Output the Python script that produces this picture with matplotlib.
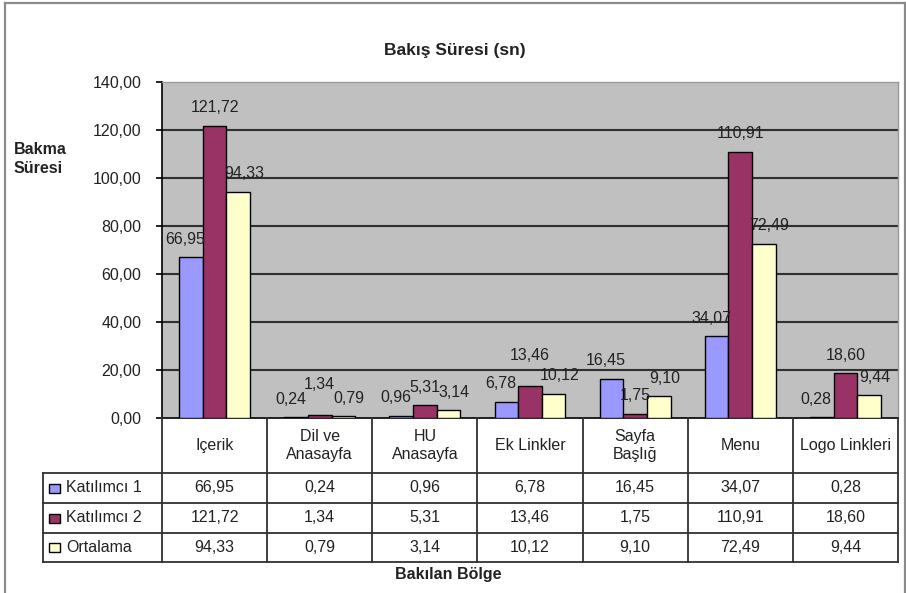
import matplotlib
matplotlib.use("Agg")
import matplotlib.pyplot as plt
from matplotlib.lines import Line2D
from matplotlib.patches import Rectangle

plt.rcParams['font.family'] = ['Liberation Sans', 'DejaVu Sans']

# bakılan bölgeler ve ölçülen süreler (sn)
categories = ["Içerik", "Dil ve\nAnasayfa", "HU\nAnasayfa", "Ek Linkler",
              "Sayfa\nBaşlığ", "Menu", "Logo Linkleri"]
series_names = ["Katılımcı 1", "Katılımcı 2", "Ortalama"]
katilimci_1 = [66.95, 0.24, 0.96, 6.78, 16.45, 34.07, 0.28]
katilimci_2 = [121.72, 1.34, 5.31, 13.46, 1.75, 110.91, 18.60]
ortalama = [94.33, 0.79, 3.14, 10.12, 9.10, 72.49, 9.44]
series = [katilimci_1, katilimci_2, ortalama]
colors = ["#9999FF", "#993366", "#FFFFCC"]
yticks = [0, 20, 40, 60, 80, 100, 120, 140]

# etiketlerin elle kaydırılmış olanları (kategori, seri) -> ek yükseklik (pt)
label_lift = {(1, 1): 9, (3, 1): 9}
label_dx = [-4, 0, 4]

TXT = "#222222"


def tr(v):
    return f"{v:.2f}".replace(".", ",")


W, H = 906, 593
fig = plt.figure(figsize=(W / 100, H / 100), dpi=100)
fig.patch.set_facecolor("white")

# dış çerçeve
for xs, ys in [((5, 5), (0, 590)), ((5, 905), (590, 590)), ((905, 905), (590, 0))]:
    fig.add_artist(Line2D([x / W for x in xs], [y / H for y in ys],
                          color="#8a8a8a", lw=1.6))

ax = fig.add_axes([162 / W, (H - 418) / H, 736 / W, 336 / H])
ax.set_facecolor("#C0C0C0")
n = len(categories)
bw = 0.225
for i, (vals, col) in enumerate(zip(series, colors)):
    xs = [c + 0.5 + (i - 1) * bw for c in range(n)]
    ax.bar(xs, vals, width=bw, color=col, edgecolor="black", linewidth=1.0, zorder=3)
    for c, (x, v) in enumerate(zip(xs, vals)):
        ax.annotate(tr(v), (x, v), xytext=(label_dx[i], 13 + label_lift.get((c, i), 0)),
                    textcoords="offset points", ha="center", va="center",
                    fontsize=11.5, color=TXT, zorder=4)

ax.set_xlim(0, n)
ax.set_ylim(0, 140)
ax.set_yticks(yticks)
ax.set_yticklabels([tr(t) for t in yticks], fontsize=11.5, color=TXT)
ax.set_xticks([])
ax.tick_params(axis="y", length=4, width=1.2, direction="out", pad=11)
for t in yticks[1:-1]:
    ax.axhline(t, color="#303030", lw=1.5, zorder=1)
ax.spines["left"].set_linewidth(1.2)
ax.spines["bottom"].set_linewidth(1.2)
for s in ("top", "right"):
    ax.spines[s].set_color("#9a9a9a")
    ax.spines[s].set_linewidth(1.0)

ax.text(-1.41, 108, "Bakma\nSüresi", fontsize=11.5, fontweight="bold", color=TXT,
        ha="left", va="center", linespacing=1.3)
fig.text(455 / W, 1 - 50 / H, "Bakış Süresi (sn)", fontsize=12.5, fontweight="bold",
         color=TXT, ha="center", va="center")

# veri tablosu
legend_w = 119 / 105.14
tb = fig.add_axes([43 / W, (H - 562) / H, 855 / W, 144 / H])
tb.set_xlim(-legend_w, n)
tb.set_ylim(144, 0)
tb.axis("off")
row_edges = [0, 55, 85, 115, 144]
lc = "#303030"
for c in range(n + 1):
    tb.plot([c, c], [0, 144], color=lc, lw=1.3, clip_on=False)
tb.plot([-legend_w, -legend_w], [55, 144], color=lc, lw=1.3, clip_on=False)
for y in row_edges[1:]:
    tb.plot([-legend_w, n], [y, y], color=lc, lw=1.3, clip_on=False)

for c, name in enumerate(categories):
    tb.text(c + 0.5, 27.5, name, ha="center", va="center", fontsize=11.5,
            color=TXT, linespacing=1.3, clip_on=True)

for r, (name, vals, col) in enumerate(zip(series_names, series, colors)):
    yc = (row_edges[r + 1] + row_edges[r + 2]) / 2
    tb.add_patch(Rectangle((-legend_w + 0.06, yc - 4.5), 0.1, 9, facecolor=col,
                           edgecolor="black", lw=1.0, clip_on=False))
    tb.text(-legend_w + 0.22, yc, name, ha="left", va="center", fontsize=11.5, color=TXT)
    for c, v in enumerate(vals):
        tb.text(c + 0.5, yc, tr(v), ha="center", va="center", fontsize=11.5, color=TXT)

fig.text(448 / W, 1 - 575 / H, "Bakılan Bölge", fontsize=11.5, fontweight="bold",
         color=TXT, ha="center", va="center")

fig.savefig("out.png", dpi=100)
